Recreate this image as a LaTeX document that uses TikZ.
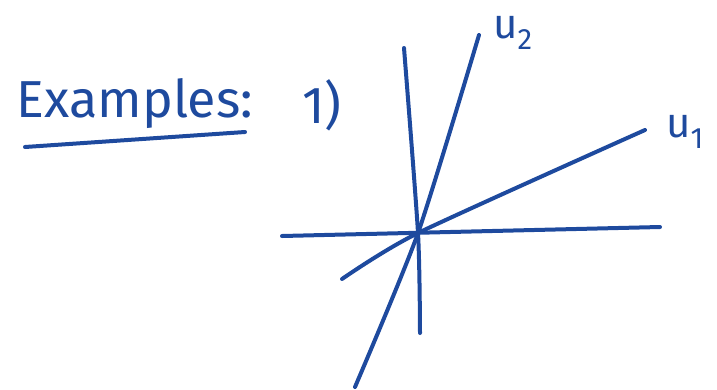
\documentclass[tikz,border=0pt]{standalone}
\usepackage{fontspec}
\setsansfont{Fira Sans}
\usetikzlibrary{positioning}
\definecolor{ink}{HTML}{1E4A9E}
\tikzset{
  stroke/.style={draw=ink, line width=4pt, line cap=round},
  hand/.style={text=ink, font=\sffamily\fontsize{52}{56}\selectfont, inner sep=0pt},
  vlabel/.style={text=ink, font=\sffamily\fontsize{42}{46}\selectfont, inner sep=0pt}
}
\begin{document}
\begin{tikzpicture}[x=1pt,y=-1pt]
  \useasboundingbox (0,0) rectangle (717,389);
  % heading
  \node[hand] (title) at (135,104) {Examples:};
  \node[hand] (num) at (322,105) {1)};
  \coordinate (ulA) at (25,147);
  \coordinate (ulB) at (245,132);
  \draw[stroke] (ulA) -- (ulB);
  % axes and the two directions
  \coordinate (o) at (418,233);
  \coordinate (xl) at (282,236);
  \coordinate (xr) at (660,227);
  \coordinate (yt) at (404,48);
  \coordinate (yb) at (420,333);
  \coordinate (uaS) at (342,279);
  \coordinate (uaE) at (645,130);
  \coordinate (ubS) at (355,387);
  \coordinate (ubE) at (479,35);
  \draw[stroke] (xl) -- (xr);
  \draw[stroke] plot[smooth, tension=0.4] coordinates {(yt) (o) (yb)};
  \draw[stroke] plot[smooth, tension=0.4] coordinates {(uaS) (o) (uaE)};
  \draw[stroke] plot[smooth, tension=0.4] coordinates {(ubS) (o) (ubE)};
  \node[vlabel, anchor=base west] (lua) at (666,137) {u\textsubscript{1}};
  \node[vlabel, anchor=base west] (lub) at (493,38) {u\textsubscript{2}};
\end{tikzpicture}
\end{document}
